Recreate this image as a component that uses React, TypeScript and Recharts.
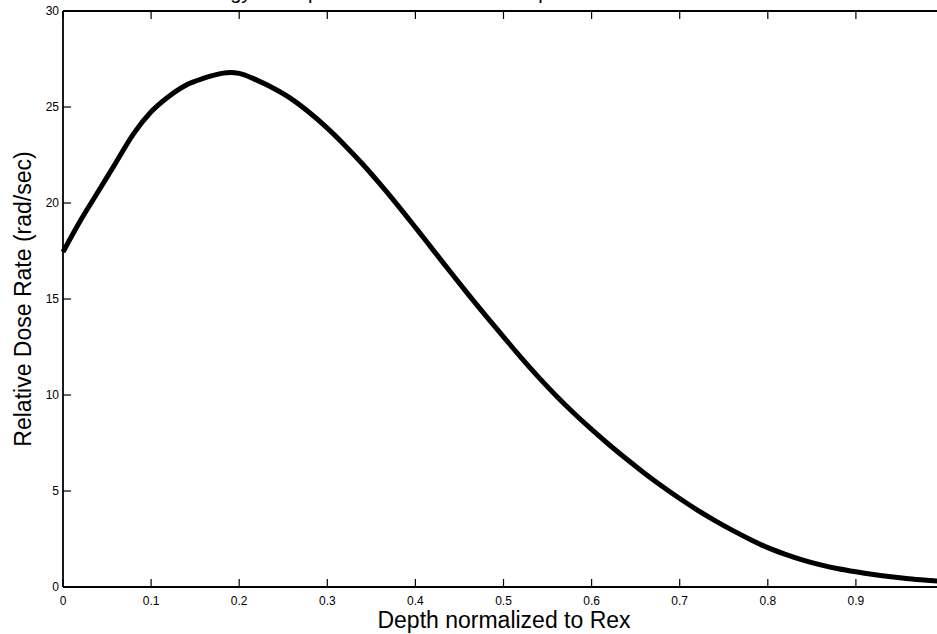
import React from 'react';
import { LineChart, Line, XAxis, YAxis, Label } from 'recharts';

// values
const depth = [
  0, 0.02, 0.04, 0.06, 0.08, 0.1, 0.12, 0.14, 0.16, 0.18, 0.19, 0.2, 0.22, 0.24, 0.26, 0.28,
  0.3, 0.32, 0.34, 0.36, 0.38, 0.4, 0.42, 0.44, 0.46, 0.48, 0.5, 0.52, 0.54, 0.56, 0.58,
  0.6, 0.62, 0.64, 0.66, 0.68, 0.7, 0.72, 0.74, 0.76, 0.78, 0.8, 0.82, 0.84, 0.86, 0.88,
  0.9, 0.92, 0.94, 0.96, 0.98, 1.0,
];
const doseRate = [
  17.45, 19.1, 20.6, 22.1, 23.6, 24.75, 25.55, 26.15, 26.5, 26.75, 26.8, 26.75, 26.4, 25.95, 25.4, 24.7,
  23.9, 23.0, 22.03, 20.98, 19.88, 18.73, 17.56, 16.39, 15.24, 14.12, 13.03, 11.95, 10.92, 9.95, 9.05,
  8.21, 7.41, 6.65, 5.93, 5.25, 4.61, 4.01, 3.46, 2.95, 2.48, 2.05, 1.7, 1.4, 1.15, 0.95,
  0.79, 0.65, 0.53, 0.43, 0.35, 0.28,
];
const xTicks = [0, 0.1, 0.2, 0.3, 0.4, 0.5, 0.6, 0.7, 0.8, 0.9];
const yTicks = [0, 5, 10, 15, 20, 25, 30];

const chartTitle = 'Energy Absorption Curve for the Beta Spectrum';
const xTitle = 'Depth normalized to Rex';
const yTitle = 'Relative Dose Rate (rad/sec)';

const data = depth.map((d, i) => ({ depth: d, dose: doseRate[i] }));

const FONT = '"Liberation Sans", Arial, Helvetica, sans-serif';

const BottomTick = (props: any) => {
  const { x, y, payload } = props;
  return (
    <g>
      <line x1={x} y1={y} x2={x} y2={y - 8} stroke="#000" strokeWidth={1.2} />
      <text x={x} y={y + 18} textAnchor="middle" fontSize={12} fontFamily={FONT} fill="#000">
        {payload.value}
      </text>
    </g>
  );
};

const TopTick = (props: any) => {
  const { x, y } = props;
  return <line x1={x} y1={y} x2={x} y2={y + 8} stroke="#000" strokeWidth={1.2} />;
};

const LeftTick = (props: any) => {
  const { x, y, payload } = props;
  return (
    <g>
      <line x1={x} y1={y} x2={x + 8} y2={y} stroke="#000" strokeWidth={1.2} />
      <text x={x - 4} y={y + 4} textAnchor="end" fontSize={12} fontFamily={FONT} fill="#000">
        {payload.value}
      </text>
    </g>
  );
};

const RightTick = (props: any) => {
  const { x, y } = props;
  return <line x1={x} y1={y} x2={x - 8} y2={y} stroke="#000" strokeWidth={1.2} />;
};

const App: React.FC = () => {
  return (
    <div
      style={{
        position: 'absolute',
        left: 0,
        top: 0,
        width: 937,
        height: 634,
        overflow: 'hidden',
        background: '#fff',
      }}
    >
      <LineChart width={945} height={634} data={data} margin={{ top: 10, right: 0, bottom: 0, left: 0 }}>
        <XAxis
          xAxisId="bottom"
          dataKey="depth"
          type="number"
          domain={[0, 1]}
          ticks={xTicks}
          interval={0}
          height={47}
          tickSize={0}
          tickMargin={0}
          tickLine={false}
          tick={<BottomTick />}
          axisLine={{ stroke: '#000', strokeWidth: 1.8 }}
        >
          <Label
            content={() => (
              <text x={504} y={628} textAnchor="middle" fontSize={23} fontFamily={FONT} fill="#000">
                {xTitle}
              </text>
            )}
          />
        </XAxis>
        <XAxis
          xAxisId="top"
          orientation="top"
          dataKey="depth"
          type="number"
          domain={[0, 1]}
          ticks={xTicks}
          interval={0}
          height={1}
          tickSize={0}
          tickMargin={0}
          tickLine={false}
          tick={<TopTick />}
          axisLine={{ stroke: '#000', strokeWidth: 1.8 }}
        >
          <Label
            content={() => (
              <text x={188} y={-1} textAnchor="start" fontSize={20} fontFamily={FONT} fill="#000">
                {chartTitle}
              </text>
            )}
          />
        </XAxis>
        <YAxis
          yAxisId="left"
          type="number"
          domain={[0, 30]}
          ticks={yTicks}
          interval={0}
          width={63}
          tickSize={0}
          tickMargin={0}
          tickLine={false}
          tick={<LeftTick />}
          axisLine={{ stroke: '#000', strokeWidth: 1.8 }}
        >
          <Label
            content={() => (
              <text
                x={31}
                y={299}
                transform="rotate(-90 31 299)"
                textAnchor="middle"
                fontSize={23}
                fontFamily={FONT}
                fill="#000"
              >
                {yTitle}
              </text>
            )}
          />
        </YAxis>
        <YAxis
          yAxisId="right"
          orientation="right"
          type="number"
          domain={[0, 30]}
          ticks={yTicks}
          interval={0}
          width={1}
          tickSize={0}
          tickMargin={0}
          tickLine={false}
          tick={<RightTick />}
          axisLine={{ stroke: '#000', strokeWidth: 1.8 }}
        />
        <Line
          xAxisId="bottom"
          yAxisId="left"
          type="monotone"
          dataKey="dose"
          stroke="#000"
          strokeWidth={5}
          dot={false}
          isAnimationActive={false}
        />
      </LineChart>
    </div>
  );
};

export default App;
